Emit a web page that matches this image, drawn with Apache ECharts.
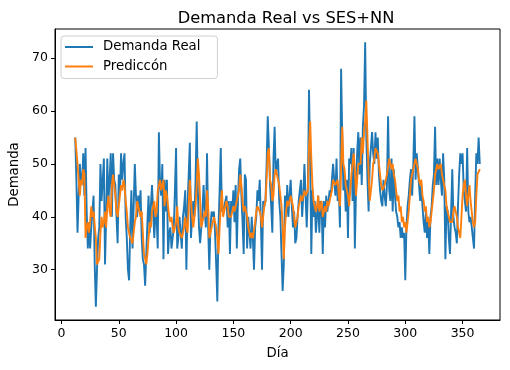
<!DOCTYPE html>
<html><head><meta charset="utf-8">
<script src="https://cdn.jsdelivr.net/npm/echarts@6/dist/echarts.min.js"></script>
<style>html,body{margin:0;padding:0;background:#fff}#c{width:510px;height:370px}</style>
</head><body><div id="c"></div>
<script>
const firstDay = 12;
const demandaReal = [
55,47,37,44,50,47,46,52,44,53,
41,34,39,34,38,41,44,31,23,30,
36,38,50,43,43,51,31,40,51,43,
47,52,40,52,47,46,40,35,48,44,
52,47,50,52,40,36,30,28,38,45,
34,42,50,44,40,44,41,45,36,32,
31,27,33,39,44,37,42,46,46,36,
41,40,34,56,46,44,50,32,47,41,
47,33,37,38,34,36,38,45,53,34,
36,40,37,34,40,42,45,30,42,48,
54,36,40,43,40,47,58,45,38,35,
38,41,46,41,38,52,38,30,38,41,
40,41,37,31,24,38,45,53,41,41,
42,43,44,38,43,33,43,41,45,39,
46,34,43,49,51,44,39,33,48,47,
34,40,40,34,40,36,30,38,40,45,
43,47,39,30,43,42,43,50,59,53,
46,42,37,51,57,48,50,51,43,40,
40,26,31,44,40,46,40,44,47,42,
38,41,35,36,40,43,45,47,40,44,
50,44,38,45,64,51,33,45,40,43,
37,40,44,37,43,42,33,43,38,44,
41,41,45,44,47,50,47,44,51,43,
45,38,68,55,45,48,41,47,36,51,
50,53,43,53,34,45,52,56,48,55,
46,57,61,73,55,47,41,50,53,56,
52,50,56,51,55,48,45,43,42,47,
44,42,46,59,45,43,51,41,49,44,
41,40,38,39,36,38,36,37,28,38,
42,44,47,49,44,50,59,47,52,49,
46,43,46,42,39,37,41,36,39,33,
40,42,46,48,57,46,51,46,51,47,
44,52,47,32,42,41,36,33,41,49,
40,38,37,35,42,48,52,50,52,45,
43,41,53,41,39,40,38,38,34,44,
52,50,55,50
];
const prediccion = [
55,55,50,47,44,47,46,49,48,36,
38,39,37,39,42,40,41,41,36,31,
31,32,37,40,38,39,41,38,42,44,
41,40,46,48,46,44,41,40,42,44,
46,45,47,46,43,41,38,37,36,36,
35,37,39,40,43,42,41,40,41,37,
33,32,31,33,36,39,38,41,42,43,
40,41,45,46,47,45,46,47,42,45,
44,44,40,39,40,38,37,38,39,42,
38,37,37,36,37,38,40,38,37,42,
47,43,40,38,40,42,46,51,48,43,
38,38,40,41,40,45,42,36,36,38,
39,40,39,38,36,33,38,42,45,40,
41,42,43,42,40,40,40,41,42,41,
42,43,44,45,48,46,43,41,42,42,
40,38,37,36,37,36,36,39,41,42,
42,41,40,38,40,42,43,47,52,53,
47,46,43,44,48,49,48,48,46,44,
42,38,32,38,41,43,42,43,44,44,
42,40,38,39,40,42,43,44,43,43,
45,44,44,45,53,58,51,46,43,43,
41,42,44,41,42,43,40,41,42,41,
43,42,43,44,45,47,47,46,46,47,
44,42,42,57,50,49,46,45,44,42,
45,48,50,52,49,44,47,50,50,50,
55,52,56,58,62,55,48,43,45,47,
50,51,53,53,52,50,48,46,45,45,
46,47,48,48,51,50,49,50,48,47,
45,43,44,41,42,39,40,38,39,37,
39,41,44,47,48,48,50,51,50,49,
47,46,47,44,43,41,42,39,40,38,
39,41,43,45,48,49,50,49,49,50,
48,47,46,45,42,41,40,39,39,39,
41,42,41,40,38,37,36,40,44,46,
47,44,42,44,46,43,41,39,38,39,
44,48,48,49
];
const xTicks = [0, 50, 100, 150, 200, 250, 300, 350];
const yTicks = [30, 40, 50, 60, 70];
const titleText = 'Demanda Real vs SES+NN';
const seriesNames = ['Demanda Real', 'Prediccón'];
const seriesColors = ['#1f77b4', '#ff7f0e'];
const xName = 'Día';
const yName = 'Demanda';

const FONT = 'DejaVu Sans';
const toPairs = arr => arr.map((v, i) => [firstDay + i, v]);
const lastDay = firstDay + demandaReal.length - 1;
const xPad = (lastDay - firstDay) * 0.05;
const allVals = demandaReal.concat(prediccion);
const yLo = Math.min(...allVals), yHi = Math.max(...allVals);
const yPad = (yHi - yLo) * 0.05;

const chart = echarts.init(document.getElementById('c'), null, {renderer: 'canvas'});
const axisCommon = {
  type: 'value',
  axisLine: {show: true, onZero: false, lineStyle: {color: '#000', width: 1}},
  splitLine: {show: false},
  nameLocation: 'middle',
  nameTextStyle: {fontFamily: FONT, fontSize: 13.3, color: '#000'}
};
chart.setOption({
  animation: false,
  backgroundColor: '#fff',
  title: {
    text: titleText, left: 281, top: 6, textAlign: 'center',
    textStyle: {fontFamily: FONT, fontSize: 16.3, fontWeight: 'normal', color: '#000'}
  },
  grid: {left: 54, right: 10, top: 29, bottom: 50, show: true, borderColor: '#000', borderWidth: 1, backgroundColor: 'transparent'},
  legend: {
    left: 61, top: 36, orient: 'vertical',
    icon: 'rect', itemWidth: 28, itemHeight: 2, itemGap: 3.5,
    padding: [3, 17, 4, 4],
    borderColor: '#d0d0d0', borderWidth: 1, borderRadius: 3,
    backgroundColor: 'rgba(255,255,255,0.8)',
    textStyle: {fontFamily: FONT, fontSize: 13.3, lineHeight: 16, color: '#000', padding: [0, 0, 0, 5]},
    data: seriesNames.map((n, i) => ({name: n, itemStyle: {color: seriesColors[i]}}))
  },
  xAxis: Object.assign({}, axisCommon, {
    min: firstDay - xPad, max: lastDay + xPad,
    name: xName, nameGap: 27,
    axisTick: {show: true, length: 4, customValues: xTicks, lineStyle: {color: '#000'}},
    axisLabel: {customValues: xTicks, margin: 7, color: '#000', fontFamily: FONT, fontSize: 12.5}
  }),
  yAxis: Object.assign({}, axisCommon, {
    min: yLo - yPad, max: yHi + yPad,
    name: yName, nameGap: 34, nameRotate: 90,
    axisTick: {show: true, length: 4, customValues: yTicks, lineStyle: {color: '#000'}},
    axisLabel: {customValues: yTicks, margin: 7, color: '#000', fontFamily: FONT, fontSize: 12.5}
  }),
  series: seriesNames.map((n, i) => ({
    name: n, type: 'line', data: toPairs(i === 0 ? demandaReal : prediccion),
    symbol: 'none', showSymbol: false, clip: true,
    color: seriesColors[i], lineStyle: {color: seriesColors[i], width: 1.9}
  }))
});
</script>
</body></html>
